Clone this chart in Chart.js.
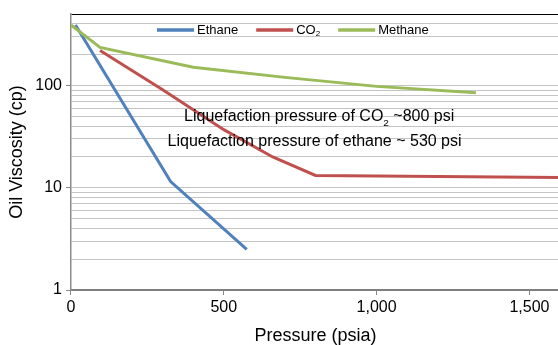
<!DOCTYPE html>
<html>
<head>
<meta charset="utf-8">
<script src="https://cdn.jsdelivr.net/npm/chart.js@4"></script>
<style>
  html, body { margin: 0; padding: 0; background: #fff; overflow: hidden; }
  canvas { display: block; }
</style>
</head>
<body>
<canvas id="chart" width="560" height="348"></canvas>
<script>
const ethanePressure = [14.7, 326, 575];
const ethaneVisc = [390, 11.5, 2.5];
const co2Pressure = [95, 300, 500, 660, 800, 1600];
const co2Visc = [220, 91, 37, 20, 13.2, 12.6];
const methanePressure = [0, 95, 400, 700, 1000, 1325];
const methaneVisc = [390, 236, 151, 120, 98, 85];

const xTickValues = [0, 500, 1000, 1500];
const yGridValues = [1, 2, 3, 4, 5, 6, 7, 8, 9, 10, 20, 30, 40, 50, 60, 70, 80, 90, 100, 200, 300, 400, 500];
const yLabelValues = [1, 10, 100];

const seriesNames = ['Ethane', 'CO2', 'Methane'];
const seriesColors = ['#4f81bd', '#c0504d', '#9bbb59'];

// annotation text, anchored at (pressure, viscosity)
const notes = [
  { parts: [['Liquefaction pressure of CO'], ['2', 'sub'], [' ~800 psi']], p: 812, v: 45 },
  { parts: [['Liquefaction pressure of ethane ~ 530 psi']], p: 797, v: 25.8 }
];

const FONT = "'Liberation Sans', Arial, Helvetica, sans-serif";

function toPoints(xs, ys) {
  return xs.map((x, i) => ({ x: x, y: ys[i] }));
}

// draws text pieces, some as subscript
function drawParts(ctx, parts, x, y, size, align) {
  const subSize = size * 0.62;
  let total = 0;
  parts.forEach(p => {
    ctx.font = (p[1] === 'sub' ? subSize : size) + 'px ' + FONT;
    total += ctx.measureText(p[0]).width;
  });
  let cx = align === 'center' ? x - total / 2 : x;
  parts.forEach(p => {
    const sub = p[1] === 'sub';
    ctx.font = (sub ? subSize : size) + 'px ' + FONT;
    ctx.fillText(p[0], cx, sub ? y + size * 0.3 : y);
    cx += ctx.measureText(p[0]).width;
  });
  return total;
}

const extras = {
  id: 'extras',
  afterDatasetsDraw(chart) {
    const ctx = chart.ctx;
    const xs = chart.scales.x;
    const ys = chart.scales.y;
    ctx.save();
    ctx.fillStyle = '#000';
    ctx.textBaseline = 'alphabetic';
    ctx.textAlign = 'left';

    notes.forEach(n => {
      drawParts(ctx, n.parts, xs.getPixelForValue(n.p), ys.getPixelForValue(n.v), 16, 'center');
    });

    // legend inside plot
    let lx = 157;
    const ly = 30;
    chart.data.datasets.forEach(ds => {
      ctx.strokeStyle = ds.borderColor;
      ctx.lineWidth = 3.5;
      ctx.beginPath();
      ctx.moveTo(lx, ly);
      ctx.lineTo(lx + 37, ly);
      ctx.stroke();
      ctx.textBaseline = 'middle';
      const parts = ds.label === 'CO2' ? [['CO'], ['2', 'sub']] : [[ds.label]];
      const w = drawParts(ctx, parts, lx + 40, ly, 13, 'left');
      lx += 40 + w + 18;
    });
    ctx.restore();
  }
};

const datasets = [
  { label: seriesNames[0], data: toPoints(ethanePressure, ethaneVisc), order: 3 },
  { label: seriesNames[1], data: toPoints(co2Pressure, co2Visc), order: 2 },
  { label: seriesNames[2], data: toPoints(methanePressure, methaneVisc), order: 1 }
].map((d, i) => Object.assign(d, {
  borderColor: seriesColors[i],
  backgroundColor: seriesColors[i],
  borderWidth: 3,
  pointRadius: 0,
  tension: 0,
  fill: false
}));

new Chart(document.getElementById('chart'), {
  type: 'line',
  data: { datasets: datasets },
  options: {
    responsive: false,
    animation: false,
    layout: { padding: { top: 14, right: 0, left: 0, bottom: 0 } },
    plugins: { legend: { display: false }, tooltip: { enabled: false } },
    scales: {
      x: {
        type: 'linear',
        min: 0,
        max: 1600,
        afterBuildTicks: s => { s.ticks = xTickValues.map(v => ({ value: v })); },
        grid: { drawOnChartArea: false, tickLength: 5, tickColor: '#888' },
        border: { color: '#7f7f7f', width: 2 },
        ticks: {
          padding: 3, color: '#000', maxRotation: 0, autoSkip: false,
          font: { family: FONT, size: 16 },
          callback: v => Number(v).toLocaleString('en-US')
        },
        title: {
          display: true, text: 'Pressure (psia)', color: '#000',
          font: { family: FONT, size: 18 }, padding: { top: 5, bottom: 1.2 }
        }
      },
      y: {
        type: 'logarithmic',
        min: 1,
        max: 500,
        afterBuildTicks: s => { s.ticks = yGridValues.map(v => ({ value: v, major: yLabelValues.includes(v) })); },
        grid: {
          tickLength: 5,
          color: c => c.tick && c.tick.value === 500 ? '#000' : (c.tick && c.tick.value === 1 ? 'rgba(0,0,0,0)' : '#c4c4c4'),
          tickColor: c => c.tick && yLabelValues.includes(c.tick.value) ? '#888' : 'rgba(0,0,0,0)',
          lineWidth: 1
        },
        border: { color: '#8c8c8c', width: 1.5 },
        ticks: {
          padding: 4, color: '#000', autoSkip: false,
          font: { family: FONT, size: 16 },
          callback: v => yLabelValues.includes(v) ? String(v) : ''
        },
        title: {
          display: true, text: 'Oil Viscosity (cp)', color: '#000',
          font: { family: FONT, size: 18 }, padding: { top: 6.5, bottom: 3.2 }
        }
      }
    }
  },
  plugins: [extras]
});
</script>
</body>
</html>
